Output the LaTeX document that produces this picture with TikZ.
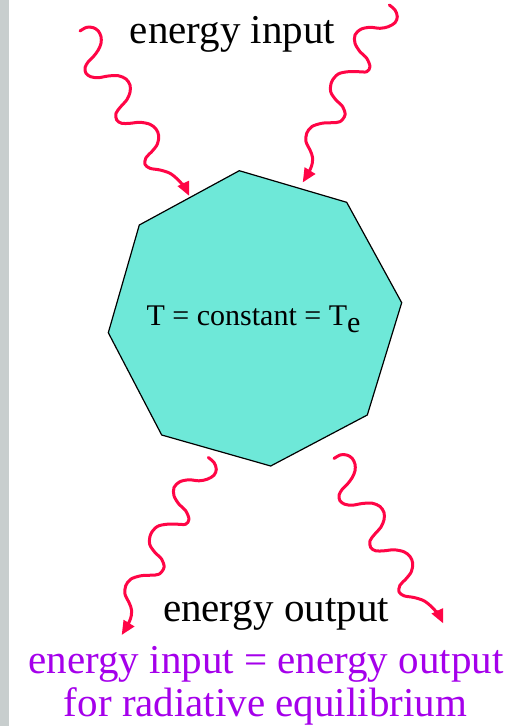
\documentclass[tikz,border=0pt]{standalone}
\usepackage{fontspec}
\setmainfont{Liberation Serif}
\usetikzlibrary{arrows.meta}
\definecolor{wavered}{RGB}{255,5,70}
\definecolor{octfill}{RGB}{110,232,216}
\definecolor{eqpurple}{RGB}{165,0,235}
\definecolor{stripgray}{RGB}{200,206,206}
\tikzset{
  wave/.style={draw=wavered, line width=3pt, line cap=round, line join=round,
    -{Triangle[length=14pt,width=12pt]}},
  lbl/.style={inner sep=0pt, anchor=base, font=\fontsize{41}{45}\selectfont},
  waveA/.pic={
    \draw[wave] plot[smooth, tension=0.55] coordinates {
      (80,31) (86.7,27.3) (93.3,27.7) (98.3,31) (101,36.7) (101,43.3) (98.3,50)
      (93.3,56.7) (88.3,61.7) (85,67.7) (86,73.3) (90.7,76.7) (98.3,77.7)
      (108.3,76) (118.3,75.7) (126,79) (130,85) (130,92.3) (126.7,100)
      (120.7,106.7) (116,113.3) (116.7,120) (121.7,123.3) (130,123.3)
      (140,122.3) (150,124.3) (156,129) (158.7,135.7) (157.3,144.3)
      (151.7,151.7) (146,157.7) (145,164.3) (150,168.3) (160,170)
      (170,173.3) (178.3,180) (185,188) (189.3,196)};
  },
  waveB/.pic={
    \draw[wave] plot[smooth, tension=0.55] coordinates {
      (389.3,5) (395,10) (397.3,16.7) (395,22.7) (388.3,26.7) (380,28.3)
      (370,27.3) (360.7,29.3) (355,35) (355,43.3) (360,51.7) (366.7,58.3)
      (370,66.7) (366.7,71.7) (358.3,71.7) (348.3,71.7) (338.3,74)
      (331.7,81.7) (330.7,91.7) (336,100) (342.7,106.7) (345,115)
      (340,121.7) (331.7,122.7) (321.7,123.3) (311.7,126.7) (306.7,133.3)
      (306,141.7) (310,150) (312.7,158.3) (310.7,168.3) (302.7,182.5)};
  }
}
\begin{document}
\begin{tikzpicture}[x=1pt,y=-1pt]
\useasboundingbox (0,0) rectangle (514,726);
\fill[white] (0,0) rectangle (514,726);
\fill[stripgray] (0,0) rectangle (9,726);
% octagon
\coordinate (o1) at (239.3,170.7);
\coordinate (o2) at (346.7,202.3);
\coordinate (o3) at (401.7,302.7);
\coordinate (o4) at (367.3,415);
\coordinate (o5) at (270.7,466);
\coordinate (o6) at (161.7,435);
\coordinate (o7) at (108.3,332.7);
\coordinate (o8) at (139.3,225);
\draw[fill=octfill, line width=1.2pt, line join=miter]
  (o1) -- (o2) -- (o3) -- (o4) -- (o5) -- (o6) -- (o7) -- (o8) -- cycle;
\node[inner sep=0pt, anchor=base, font=\fontsize{30}{33}\selectfont] (tc) at (253.5,325)
  {T = constant = T\raisebox{-7pt}{e}};
% wavy arrows
\pic (w1) at (0,0) {waveA};
\pic (w4) at (254,427.5) {waveA};
\pic (w2) at (0,0) {waveB};
\pic (w3) at (-181,452.5) {waveB};
% labels
\node[lbl] (ein) at (232.5,43.3) {energy input};
\node[lbl] (eout) at (276,621) {energy output};
\node[lbl, text=eqpurple] (eq1) at (266,673.3) {energy input = energy output};
\node[lbl, text=eqpurple] (eq2) at (265.5,716.7) {for radiative equilibrium};
\end{tikzpicture}
\end{document}
